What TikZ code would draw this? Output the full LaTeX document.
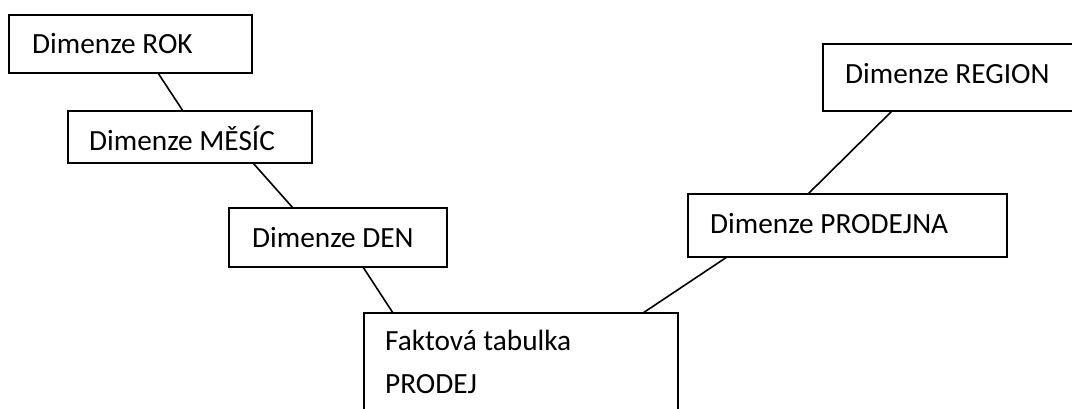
\documentclass[tikz,border=0pt]{standalone}
\usepackage{fontspec}
\setmainfont{Carlito}
\usetikzlibrary{calc}
\begin{document}
\begin{tikzpicture}[x=1pt,y=-1pt,
  box/.style={draw,line width=1.7pt,inner sep=0pt,outer sep=0pt,anchor=north west},
  lbl/.style={anchor=base west,inner sep=0pt,font=\fontsize{29.3}{35}\selectfont},
  conn/.style={line width=1.6pt}]
\useasboundingbox (0,0) rectangle (1072,408);
\node[box,minimum width=243pt,minimum height=58pt] (rok) at (9,15) {};
\node[box,minimum width=244pt,minimum height=52pt] (mesic) at (68,111) {};
\node[box,minimum width=218pt,minimum height=59pt] (den) at (229,208) {};
\node[box,minimum width=314pt,minimum height=120pt] (fakt) at (364,313) {};
\node[box,minimum width=270pt,minimum height=67pt] (region) at (823,44) {};
\node[box,minimum width=319pt,minimum height=63pt] (prodejna) at (688,194) {};
\node[lbl] (trok) at (32,53) {Dimenze ROK};
\node[lbl] (tmesic) at (89,150) {Dimenze MĚSÍC};
\node[lbl] (tden) at (252,247) {Dimenze DEN};
\node[lbl] (tfakt1) at (385,350) {Faktová tabulka};
\node[lbl] (tfakt2) at (385,393) {PRODEJ};
\node[lbl] (tregion) at (845,83) {Dimenze REGION};
\node[lbl] (tprodejna) at (710,233) {Dimenze PRODEJNA};
\draw[conn] ([xshift=149pt]rok.south west) -- ([xshift=115pt]mesic.north west);
\draw[conn] ([xshift=185pt]mesic.south west) -- ([xshift=64pt]den.north west);
\draw[conn] ([xshift=134pt]den.south west) -- ([xshift=29pt]fakt.north west);
\draw[conn] ([xshift=279pt]fakt.north west) -- ([xshift=39pt]prodejna.south west);
\draw[conn] ([xshift=120pt]prodejna.north west) -- ([xshift=69pt]region.south west);
\end{tikzpicture}
\end{document}
